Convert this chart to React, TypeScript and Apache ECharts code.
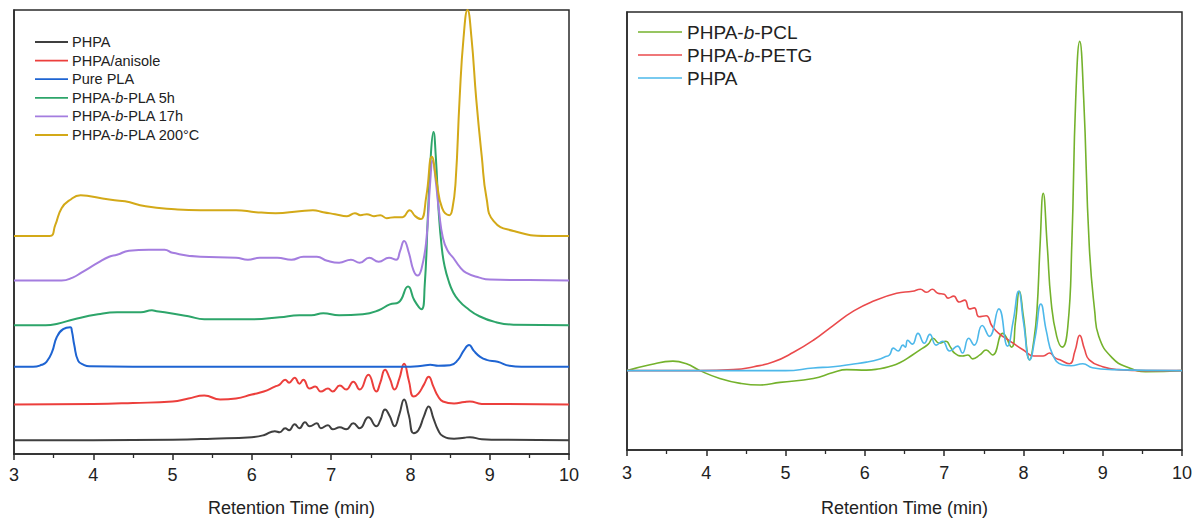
import React, { useEffect, useRef } from "react";
import * as echarts from "echarts";

// ---------- Left panel: stacked GPC traces (signal above its own baseline) ----------
const leftNames = ["PHPA", "PHPA/anisole", "Pure PLA", "PHPA-b-PLA 5h", "PHPA-b-PLA 17h", "PHPA-b-PLA 200°C"];
const leftColors = ["#3f3f3f", "#ec3f3c", "#1e64d2", "#2da56a", "#a47ddf", "#d3a918"];
const leftOffsets = [14, 50, 88, 130, 175, 220];

const phpaL: number[][] = [
  [3, 0], [4, 0], [5, 0.5], [5.5, 1.5], [6.0, 3], [6.15, 5], [6.29, 9], [6.35, 8], [6.42, 12], [6.47, 10],
  [6.54, 16], [6.6, 12], [6.67, 18], [6.73, 14], [6.82, 17], [6.87, 12], [6.96, 15], [7.02, 11], [7.11, 13],
  [7.19, 11], [7.28, 17], [7.36, 12], [7.47, 23], [7.57, 14], [7.62, 20], [7.68, 31], [7.74, 24], [7.8, 14],
  [7.86, 26], [7.92, 41], [7.98, 25], [8.04, 7], [8.1, 10], [8.17, 24], [8.23, 34], [8.29, 22], [8.35, 10],
  [8.41, 4], [8.55, 1.5], [8.68, 2.5], [8.75, 3], [8.9, 1], [9.2, 0.3], [10, 0],
];
const anisoleL: number[][] = [
  [3, 0], [4, 0.5], [4.5, 1.5], [5.0, 3], [5.2, 6], [5.4, 9], [5.6, 5], [5.8, 6], [6.0, 10], [6.15, 13],
  [6.29, 18], [6.35, 20], [6.42, 25], [6.47, 22], [6.54, 27], [6.6, 21], [6.65, 25], [6.73, 16], [6.8, 18],
  [6.87, 13], [6.96, 16], [7.02, 13], [7.11, 19], [7.19, 15], [7.28, 23], [7.36, 15], [7.47, 30], [7.57, 13],
  [7.62, 22], [7.68, 35], [7.74, 26], [7.8, 15], [7.86, 26], [7.92, 41], [7.98, 24], [8.04, 8], [8.1, 11],
  [8.17, 20], [8.23, 28], [8.29, 18], [8.35, 8], [8.41, 3], [8.55, 1], [8.68, 2.5], [8.75, 3], [8.9, 0.5], [10, 0],
];
const purePLA: number[][] = [
  [3, 0], [3.24, 0], [3.35, 2], [3.41, 5], [3.48, 15], [3.54, 30], [3.62, 38], [3.71, 40], [3.73, 36],
  [3.76, 22], [3.81, 6], [3.88, 2], [3.95, 0.5], [4.5, 0], [8.0, 0], [8.15, 1], [8.25, 2], [8.35, 1],
  [8.5, 1.5], [8.6, 7], [8.67, 16], [8.74, 22], [8.8, 16], [8.88, 10], [8.96, 7], [9.1, 5], [9.25, 1], [9.4, 0], [10, 0],
];
const pla5h: number[][] = [
  [3, 0], [3.4, 0], [3.55, 1.5], [3.76, 6], [4.06, 11], [4.3, 13], [4.6, 13], [4.74, 15], [4.8, 14], [4.9, 13],
  [5.2, 9], [5.4, 6], [5.7, 6], [6.0, 6], [6.35, 8], [6.6, 10], [6.75, 10], [6.9, 12], [7.1, 10], [7.4, 11],
  [7.6, 15], [7.74, 21], [7.85, 23], [7.97, 39], [8.05, 25], [8.14, 16], [8.18, 40], [8.22, 110], [8.26, 175],
  [8.29, 195], [8.32, 170], [8.36, 110], [8.4, 75], [8.43, 60], [8.48, 45], [8.54, 33], [8.62, 24], [8.7, 18],
  [8.87, 9], [9.08, 3], [9.3, 0.5], [10, 0],
];
const pla17h: number[][] = [
  [3, 0], [3.6, 0], [3.74, 3], [3.85, 8], [4.06, 18], [4.2, 24], [4.3, 26], [4.45, 30], [4.7, 31], [4.9, 31],
  [5.0, 28], [5.35, 24], [5.8, 23], [5.95, 21], [6.1, 23], [6.32, 23], [6.5, 21], [6.65, 24], [6.82, 24],
  [6.95, 20], [7.1, 18], [7.25, 21], [7.36, 18], [7.48, 23], [7.6, 19], [7.73, 23], [7.82, 21], [7.87, 30],
  [7.92, 40], [7.98, 28], [8.04, 10], [8.09, 5], [8.14, 12], [8.2, 40], [8.25, 100], [8.28, 121], [8.32, 100],
  [8.36, 70], [8.41, 43], [8.47, 30], [8.54, 23], [8.62, 14], [8.7, 8], [8.87, 3], [9.0, 1], [9.5, 0.5], [10, 0],
];
const pla200: number[][] = [
  [3, 0], [3.45, 0], [3.52, 11], [3.6, 28], [3.7, 36], [3.84, 41], [3.96, 40], [4.1, 38], [4.27, 36], [4.4, 35],
  [4.66, 30], [5.03, 27], [5.35, 26], [5.8, 26], [6.05, 24], [6.3, 23], [6.6, 25], [6.77, 26], [6.9, 24],
  [7.05, 22], [7.2, 20], [7.3, 23], [7.37, 21], [7.45, 22], [7.54, 20], [7.62, 21], [7.7, 18], [7.8, 19],
  [7.9, 19], [7.99, 26], [8.06, 20], [8.13, 17], [8.2, 40], [8.27, 80], [8.33, 55], [8.4, 28], [8.49, 21],
  [8.53, 28], [8.57, 55], [8.62, 138], [8.67, 200], [8.72, 228], [8.77, 200], [8.83, 138], [8.9, 80],
  [8.96, 38], [9.05, 15], [9.3, 5], [9.72, 0], [10, 0],
];
const leftData = [phpaL, anisoleL, purePLA, pla5h, pla17h, pla200];

// ---------- Right panel: overlaid traces (value relative to common baseline) ----------
const rightNames = ["PHPA-b-PCL", "PHPA-b-PETG", "PHPA"];
const rightColors = ["#74b22c", "#ea4a4c", "#4db8ea"];

const pcl: number[][] = [
  [3, 0], [3.29, 6], [3.58, 9.7], [3.75, 7], [3.92, 0], [4.17, -8], [4.43, -13], [4.68, -14.7], [4.93, -12],
  [5.35, -8], [5.6, -2], [5.77, 1], [6.02, 0.5], [6.19, 2], [6.3, 4], [6.44, 8], [6.6, 16], [6.73, 23], [6.8, 27],
  [6.86, 33], [6.94, 28], [7.02, 30], [7.08, 24], [7.13, 18], [7.23, 15], [7.3, 16], [7.36, 12], [7.45, 16],
  [7.53, 21], [7.61, 16], [7.74, 38], [7.85, 24], [7.9, 50], [7.95, 81], [8.0, 55], [8.08, 11], [8.13, 30],
  [8.17, 60], [8.21, 128], [8.25, 181], [8.3, 128], [8.35, 70], [8.42, 35], [8.49, 24], [8.56, 45], [8.61, 128],
  [8.66, 278], [8.71, 336], [8.76, 278], [8.83, 128], [8.9, 60], [8.95, 35], [9.12, 13], [9.33, 3], [9.54, -1], [10, 0],
];
const petg: number[][] = [
  [3, 0], [3.92, 0], [4.34, 1], [4.6, 4], [4.85, 9], [5.1, 18.7], [5.35, 31], [5.6, 46], [5.86, 61], [6.11, 71],
  [6.4, 79], [6.6, 81], [6.7, 83], [6.78, 80], [6.85, 83], [6.92, 79], [7.0, 78], [7.05, 74], [7.12, 76],
  [7.19, 70], [7.26, 72], [7.32, 63], [7.38, 64], [7.44, 55], [7.53, 56], [7.6, 46], [7.65, 41], [7.72, 36],
  [7.78, 33], [7.87, 28], [8.0, 21], [8.13, 15], [8.25, 15], [8.33, 18], [8.4, 13], [8.46, 11], [8.58, 7],
  [8.65, 20], [8.71, 36], [8.77, 22], [8.83, 11], [9.0, 4], [9.2, 1], [9.54, 0], [10, 0],
];
const phpaR: number[][] = [
  [3, 0], [5.0, 0], [5.35, 2.7], [5.6, 4], [5.86, 6.7], [6.02, 8.7], [6.18, 11.7], [6.25, 14], [6.31, 16],
  [6.36, 23], [6.42, 20], [6.48, 26], [6.51, 24], [6.54, 31], [6.6, 27], [6.67, 38], [6.75, 28], [6.82, 37],
  [6.9, 26], [6.98, 30], [7.07, 20], [7.17, 25], [7.23, 18], [7.31, 33], [7.38, 26], [7.48, 46], [7.57, 35],
  [7.69, 63], [7.8, 25], [7.87, 50], [7.94, 81], [8.0, 50], [8.08, 11], [8.15, 35], [8.22, 68], [8.29, 40],
  [8.37, 16], [8.49, 6], [8.6, 5], [8.75, 7], [8.87, 3], [9.12, 1], [10, 0],
];
const rightData = [pcl, petg, phpaR];

const xTicks = { min: 3, max: 10, interval: 1 };
const FONT = "'Liberation Sans', Arial, sans-serif";

function richName(name: string) {
  const parts = name.split("-b-");
  if (parts.length === 1) return `{n|${name}}`;
  return `{n|${parts[0]}-}{i|b}{n|-${parts[1]}}`;
}

export default function App() {
  const ref = useRef<HTMLDivElement>(null);
  useEffect(() => {
    if (!ref.current) return;
    const chart = echarts.init(ref.current, undefined, { renderer: "svg" });

    const axisColor = "#2a2a2a";
    const mkX = (gi: number, margin: number, gap: number) => ({
      gridIndex: gi,
      type: "value",
      min: xTicks.min,
      max: xTicks.max,
      interval: xTicks.interval,
      axisLine: { onZero: false, lineStyle: { color: axisColor, width: 1.5 } },
      axisTick: { show: true, length: 6, lineStyle: { color: axisColor, width: 1.5 } },
      minorTick: { show: true, splitNumber: 2, length: 4, lineStyle: { color: axisColor, width: 1.3 } },
      splitLine: { show: false },
      minorSplitLine: { show: false },
      axisLabel: { fontSize: 18, color: "#222", fontFamily: FONT, margin },
      name: "Retention Time (min)",
      nameLocation: "middle",
      nameGap: gap,
      nameTextStyle: { fontSize: 18, color: "#222", fontFamily: FONT },
    });
    const mkY = (gi: number, min: number, max: number) => ({
      gridIndex: gi,
      type: "value",
      min,
      max,
      axisLine: { show: true, onZero: false, lineStyle: { color: axisColor, width: 1.5 } },
      axisTick: { show: false },
      axisLabel: { show: false },
      splitLine: { show: false },
    });

    const series: any[] = [];
    leftData.forEach((d, i) => {
      series.push({
        type: "line",
        name: leftNames[i],
        xAxisIndex: 0,
        yAxisIndex: 0,
        data: d.map((p) => [p[0], p[1] + leftOffsets[i]]),
        showSymbol: false,
        symbol: "none",
        smooth: 0.5,
        clip: true,
        lineStyle: { color: leftColors[i], width: 2 },
        itemStyle: { color: leftColors[i] },
      });
    });
    rightData.forEach((d, i) => {
      series.push({
        type: "line",
        name: rightNames[i] + " ",
        xAxisIndex: 1,
        yAxisIndex: 1,
        data: d,
        showSymbol: false,
        symbol: "none",
        smooth: 0.5,
        clip: true,
        lineStyle: { color: rightColors[i], width: 1.6 },
        itemStyle: { color: rightColors[i] },
      });
    });

    const graphics: any[] = [];
    leftNames.forEach((n, i) => {
      const y = 42 + i * 18.6;
      graphics.push({
        type: "line",
        shape: { x1: 35, y1: y, x2: 68, y2: y },
        style: { stroke: leftColors[i], lineWidth: 1.8 },
      });
      graphics.push({
        type: "text",
        x: 72,
        y: y,
        style: {
          text: richName(n),
          verticalAlign: "middle",
          fill: "#222",
          rich: {
            n: { fontSize: 14.5, fontFamily: FONT, fill: "#222" },
            i: { fontSize: 14.5, fontFamily: FONT, fontStyle: "italic", fill: "#222" },
          },
        },
      });
    });
    rightNames.forEach((n, i) => {
      const y = 32 + i * 23;
      graphics.push({
        type: "line",
        shape: { x1: 638, y1: y, x2: 682, y2: y },
        style: { stroke: rightColors[i], lineWidth: 1.6 },
      });
      graphics.push({
        type: "text",
        x: 687,
        y: y,
        style: {
          text: richName(n),
          verticalAlign: "middle",
          fill: "#222",
          rich: {
            n: { fontSize: 19, fontFamily: FONT, fill: "#222" },
            i: { fontSize: 19, fontFamily: FONT, fontStyle: "italic", fill: "#222" },
          },
        },
      });
    });

    chart.setOption({
      animation: false,
      backgroundColor: "#ffffff",
      grid: [
        { left: 14, top: 10, width: 555, height: 448, show: true, borderColor: axisColor, borderWidth: 1.5, backgroundColor: "transparent" },
        { left: 627, top: 12, width: 556, height: 447, show: true, borderColor: axisColor, borderWidth: 1.5, backgroundColor: "transparent" },
      ],
      xAxis: [mkX(0, 12, 45), mkX(1, 14, 49)],
      yAxis: [mkY(0, 0, 448), mkY(1, -81, 366)],
      series,
      graphic: graphics,
    });
    return () => chart.dispose();
  }, []);
  return <div ref={ref} style={{ position: "fixed", left: 0, top: 0, width: 1195, height: 522 }} />;
}
